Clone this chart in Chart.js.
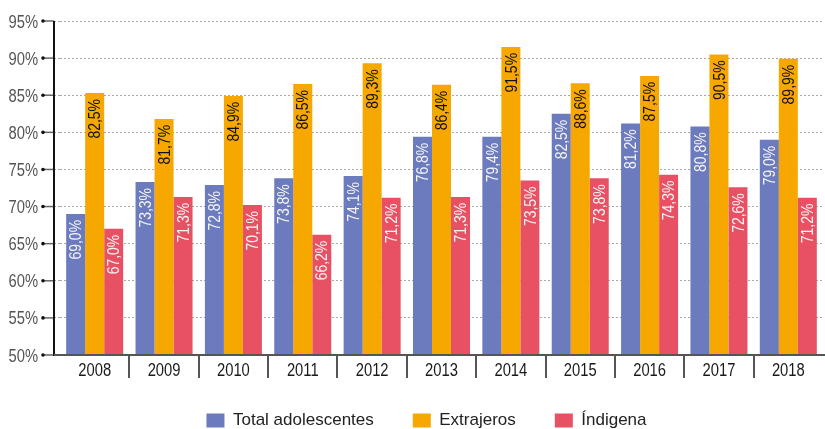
<!DOCTYPE html>
<html>
<head>
<meta charset="utf-8">
<script src="https://cdn.jsdelivr.net/npm/chart.js@4.4.1/dist/chart.umd.min.js"></script>
<style>
	body { margin: 0; background: #fff; }
	#wrap { width: 825px; height: 429px; position: relative; }
</style>
</head>
<body>
<div id="wrap"><canvas id="bar-chartcanvas"></canvas></div>
<script>
var years = ["2008", "2009", "2010", "2011", "2012", "2013", "2014", "2015", "2016", "2017", "2018"];

// bar heights as drawn
var totalValues = [69.0, 73.3, 72.9, 73.8, 74.1, 79.4, 79.4, 82.5, 81.2, 80.8, 79.0];
var extrajerosValues = [85.3, 81.8, 84.9, 86.5, 89.3, 86.4, 91.5, 86.6, 87.6, 90.5, 89.9];
var indigenaValues = [67.0, 71.3, 70.2, 66.2, 71.2, 71.3, 73.5, 73.8, 74.3, 72.6, 71.2];

// printed labels
var totalLabels = ["69,0%", "73,3%", "72,8%", "73,8%", "74,1%", "76,8%", "79,4%", "82,5%", "81,2%", "80,8%", "79,0%"];
var extrajerosLabels = ["82,5%", "81,7%", "84,9%", "86,5%", "89,3%", "86,4%", "91,5%", "88,6%", "87,5%", "90,5%", "89,9%"];
var indigenaLabels = ["67,0%", "71,3%", "70,1%", "66,2%", "71,2%", "71,3%", "73,5%", "73,8%", "74,3%", "72,6%", "71,2%"];

var seriesNames = ["Total adolescentes", "Extrajeros", "Índigena"];

var FONT = "'Liberation Sans', Arial, sans-serif";
var SQUEEZE = 0.82;   // condensed look

// draws text squeezed horizontally (the original uses a condensed face)
function narrowText(ctx, text, x, y, align) {
	ctx.save();
	ctx.translate(x, y);
	ctx.scale(SQUEEZE, 1);
	ctx.textAlign = align;
	ctx.fillText(text, 0, 0);
	ctx.restore();
}

var axisLines = {
	id : "axisLines",
	afterDatasetsDraw : function (chart) {
		var ctx = chart.ctx;
		var x = chart.scales.x;
		var y = chart.scales.y;
		var area = chart.chartArea;
		var ax = area.left - 6;
		ctx.save();
		// y ticks: mark, dot and label
		y.ticks.forEach(function (t) {
			var py = y.getPixelForValue(t.value);
			ctx.strokeStyle = "#666";
			ctx.lineWidth = 1.5;
			ctx.beginPath();
			ctx.moveTo(ax - 11, py);
			ctx.lineTo(ax, py);
			ctx.stroke();
			ctx.fillStyle = "#111";
			ctx.beginPath();
			ctx.arc(ax - 11, py, 1.8, 0, Math.PI * 2);
			ctx.fill();
			ctx.fillStyle = "#555";
			ctx.font = "18px " + FONT;
			ctx.textBaseline = "alphabetic";
			narrowText(ctx, t.value + "%", 38, py + 6.5, "right");
		});
		// x labels
		ctx.fillStyle = "#1a1a1a";
		ctx.font = "18px " + FONT;
		x.ticks.forEach(function (t, i) {
			narrowText(ctx, years[i], x.getPixelForTick(i), area.bottom + 20.5, "center");
		});
		ctx.strokeStyle = "#111";
		ctx.lineWidth = 2;
		ctx.beginPath();
		ctx.moveTo(ax, y.getPixelForValue(95));
		ctx.lineTo(ax, area.bottom + 1);
		ctx.stroke();
		ctx.strokeStyle = "#555";
		ctx.beginPath();
		ctx.moveTo(ax, area.bottom);
		ctx.lineTo(chart.width, area.bottom);
		ctx.stroke();
		ctx.restore();
	}
};

var barLabels = {
	id : "barLabels",
	afterDatasetsDraw : function (chart) {
		var ctx = chart.ctx;
		var texts = [totalLabels, extrajerosLabels, indigenaLabels];
		var colors = ["#f4f4f4", "#111", "#f4f4f4"];
		ctx.save();
		ctx.font = "17px " + FONT;
		ctx.textAlign = "right";
		ctx.textBaseline = "middle";
		chart.data.datasets.forEach(function (ds, i) {
			chart.getDatasetMeta(i).data.forEach(function (bar, j) {
				ctx.save();
				ctx.translate(bar.x, bar.y + 6);
				ctx.rotate(-Math.PI / 2);
				ctx.scale(SQUEEZE, 1);
				ctx.fillStyle = colors[i];
				ctx.fillText(texts[i][j], 0, 1);
				ctx.restore();
			});
		});
		ctx.restore();
	}
};

var ctx1 = document.getElementById("bar-chartcanvas");

var data1 = {
	labels : years,
	datasets : [
		{ label : seriesNames[0], data : totalValues, backgroundColor : "#6b7bbd" },
		{ label : seriesNames[1], data : extrajerosValues, backgroundColor : "#f6a800" },
		{ label : seriesNames[2], data : indigenaValues, backgroundColor : "#e85163" }
	]
};

var options1 = {
	responsive : true,
	maintainAspectRatio : false,
	animation : false,
	layout : { padding : { left : 30, right : 2, top : 21, bottom : 0 } },
	datasets : { bar : { categoryPercentage : 0.822, barPercentage : 1.0 } },
	plugins : {
		tooltip : { enabled : false },
		legend : {
			position : "bottom",
			maxHeight : 56,
			labels : {
				boxWidth : 18,
				boxHeight : 14,
				padding : 39,
				color : "#222",
				font : { family : FONT, size : 17 }
			}
		}
	},
	scales : {
		x : {
			afterFit : function (scale) { scale.height = 18; },
			grid : {
				offset : true,
				drawOnChartArea : false,
				tickLength : 23,
				lineWidth : 2,
				color : function (c) {
					return (c.type === "tick" && c.index > 0) ? "#555" : "rgba(0,0,0,0)";
				}
			},
			border : { display : false },
			ticks : { display : false }
		},
		y : {
			min : 50,
			max : 95,
			afterFit : function (scale) { scale.width = 30; },
			grid : {
				color : "#a8a8a8",
				lineWidth : 1,
				tickLength : 6,
				tickBorderDash : [2, 2]
			},
			border : { display : false, dash : [2, 2] },
			ticks : { stepSize : 5, display : false }
		}
	}
};

var chart1 = new Chart(ctx1, {
	type : "bar",
	data : data1,
	options : options1,
	plugins : [axisLines, barLabels]
});
</script>
</body>
</html>
